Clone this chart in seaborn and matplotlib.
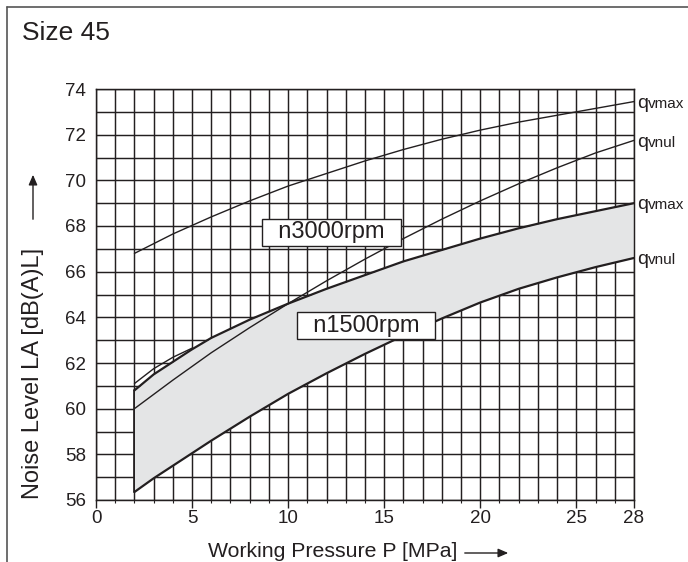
import matplotlib
matplotlib.use("Agg")
import matplotlib.pyplot as plt
import seaborn as sns
import numpy as np
import pandas as pd
from matplotlib.lines import Line2D
from matplotlib.patches import FancyArrowPatch
from matplotlib.ticker import MultipleLocator, FixedLocator

# ---------------- data ----------------
p_3000_qvmax = [2, 4, 6, 8, 10, 12, 14, 16, 18, 20, 22, 24, 26, 28]
la_3000_qvmax = [66.8, 67.65, 68.4, 69.1, 69.75, 70.3, 70.85, 71.35, 71.8, 72.2, 72.55, 72.85, 73.15, 73.45]

p_3000_qvnul = [2, 4, 6, 8, 10, 12, 14, 16, 18, 20, 22, 24, 26, 28]
la_3000_qvnul = [60.0, 61.25, 62.45, 63.55, 64.6, 65.6, 66.55, 67.45, 68.3, 69.1, 69.85, 70.55, 71.2, 71.75]

p_1500 = [2, 3, 4, 5, 6, 8, 10, 12, 14, 16, 18, 20, 22, 24, 26, 28]
la_1500_qvmax = [60.8, 61.5, 62.05, 62.6, 63.1, 63.9, 64.6, 65.25, 65.85, 66.45, 66.95, 67.45, 67.9, 68.3, 68.65, 69.0]
la_1500_qvnul = [56.35, 56.95, 57.5, 58.05, 58.6, 59.65, 60.65, 61.55, 62.4, 63.2, 63.95, 64.65, 65.25, 65.75, 66.2, 66.6]

p_start_thin = [2, 3, 4, 5]
la_start_thin = [61.1, 61.75, 62.25, 62.65]

x_ticks = [0, 5, 10, 15, 20, 25, 28]
y_ticks = [56, 58, 60, 62, 64, 66, 68, 70, 72, 74]
end_labels = ["qvmax", "qvnul", "qvmax", "qvnul"]

# ---------------- style ----------------
sns.set_theme(style="white")
plt.rcParams["font.family"] = ["Liberation Sans", "DejaVu Sans"]
INK = "#231f20"
FILL = "#e4e5e6"

fig = plt.figure(figsize=(6.88, 5.62), dpi=100)
ax = fig.add_axes([96 / 688, 1 - 500 / 562, (634 - 96) / 688, (500 - 89) / 562])

ax.set_xlim(0, 28)
ax.set_ylim(56, 74)

ax.xaxis.set_major_locator(FixedLocator(x_ticks))
ax.xaxis.set_minor_locator(MultipleLocator(1))
ax.yaxis.set_major_locator(FixedLocator(y_ticks))
ax.yaxis.set_minor_locator(MultipleLocator(1))
ax.grid(which="both", color=INK, linewidth=1.05)
ax.set_axisbelow(True)
for s in ax.spines.values():
    s.set_color(INK)
    s.set_linewidth(1.05)

ax.tick_params(axis="x", which="major", direction="out", length=6, width=1.0,
               color=INK, labelsize=13.5, labelcolor=INK, pad=1.5, bottom=True)
ax.tick_params(axis="x", which="minor", direction="out", length=2, width=0.8,
               color=INK, bottom=True)
ax.tick_params(axis="y", which="both", length=0, labelsize=13.5, labelcolor=INK, pad=7)
ax.set_xticklabels([str(t) for t in x_ticks])
ax.set_yticklabels([str(t) for t in y_ticks])

# band for n1500
ax.fill_between(p_1500, la_1500_qvnul, la_1500_qvmax, color=FILL, zorder=2, linewidth=0)
ax.plot([p_1500[0], p_1500[0]], [la_1500_qvnul[0], la_1500_qvmax[0]], color=INK, lw=1.2, zorder=3)

# lines
kw = dict(ax=ax, color=INK, sort=False, estimator=None, zorder=4)
sns.lineplot(x=p_3000_qvmax, y=la_3000_qvmax, lw=1.0, **kw)
sns.lineplot(x=p_3000_qvnul, y=la_3000_qvnul, lw=1.0, **kw)
sns.lineplot(x=p_start_thin, y=la_start_thin, lw=1.0, **kw)
sns.lineplot(x=p_1500, y=la_1500_qvmax, lw=1.6, **kw)
sns.lineplot(x=p_1500, y=la_1500_qvnul, lw=1.6, **kw)
ax.set_xlabel("")
ax.set_ylabel("")

# end labels (q larger, suffix smaller)
ends = [la_3000_qvmax[-1], la_3000_qvnul[-1], la_1500_qvmax[-1], la_1500_qvnul[-1]]
for yv, lab in zip(ends, end_labels):
    ax.annotate(lab[0], xy=(28, yv), xytext=(2.5, -4.5), textcoords="offset points",
                fontsize=14, color=INK, va="baseline", ha="left", annotation_clip=False)
    ax.annotate(lab[1:], xy=(28, yv), xytext=(10.3, -4.5), textcoords="offset points",
                fontsize=11, color=INK, va="baseline", ha="left", annotation_clip=False)

# speed labels in boxes
box = dict(boxstyle="square,pad=0.12", facecolor="white", edgecolor=INK, linewidth=1.0)
ax.text(12.26, 67.72, "  n3000rpm  ", fontsize=17, color=INK, ha="center", va="center",
        bbox=box, zorder=6)
ax.text(14.05, 63.64, "  n1500rpm  ", fontsize=17, color=INK, ha="center", va="center",
        bbox=box, zorder=6)

# title
fig.text(22 / 688, 1 - 40 / 562, "Size 45", fontsize=19, color=INK, ha="left", va="baseline")

# axis labels with arrows
fig.text(208 / 688, 1 - 557 / 562, "Working Pressure P [MPa]", fontsize=15.3, color=INK,
         ha="left", va="baseline")
fig.patches.append(FancyArrowPatch(
    (462 / 688, 1 - 553 / 562), (511 / 688, 1 - 553 / 562), transform=fig.transFigure,
    arrowstyle="-|>,head_length=6,head_width=2.6", color=INK, lw=1.0, mutation_scale=1))

fig.text(39 / 688, 1 - 499 / 562, "Noise Level LA [dB(A)L]", fontsize=17, color=INK,
         ha="left", va="baseline", rotation=90, rotation_mode="anchor")
fig.patches.append(FancyArrowPatch(
    (33 / 688, 1 - 222 / 562), (33 / 688, 1 - 172 / 562), transform=fig.transFigure,
    arrowstyle="-|>,head_length=6,head_width=2.6", color=INK, lw=1.0, mutation_scale=1))

# outer frame (top and left)
fig.add_artist(Line2D([7 / 688, 1.0], [1 - 7 / 562, 1 - 7 / 562], transform=fig.transFigure,
                      color="#555555", lw=1.2))
fig.add_artist(Line2D([7 / 688, 7 / 688], [0.0, 1 - 7 / 562], transform=fig.transFigure,
                      color="#555555", lw=1.2))

fig.savefig("out.png", dpi=100)
